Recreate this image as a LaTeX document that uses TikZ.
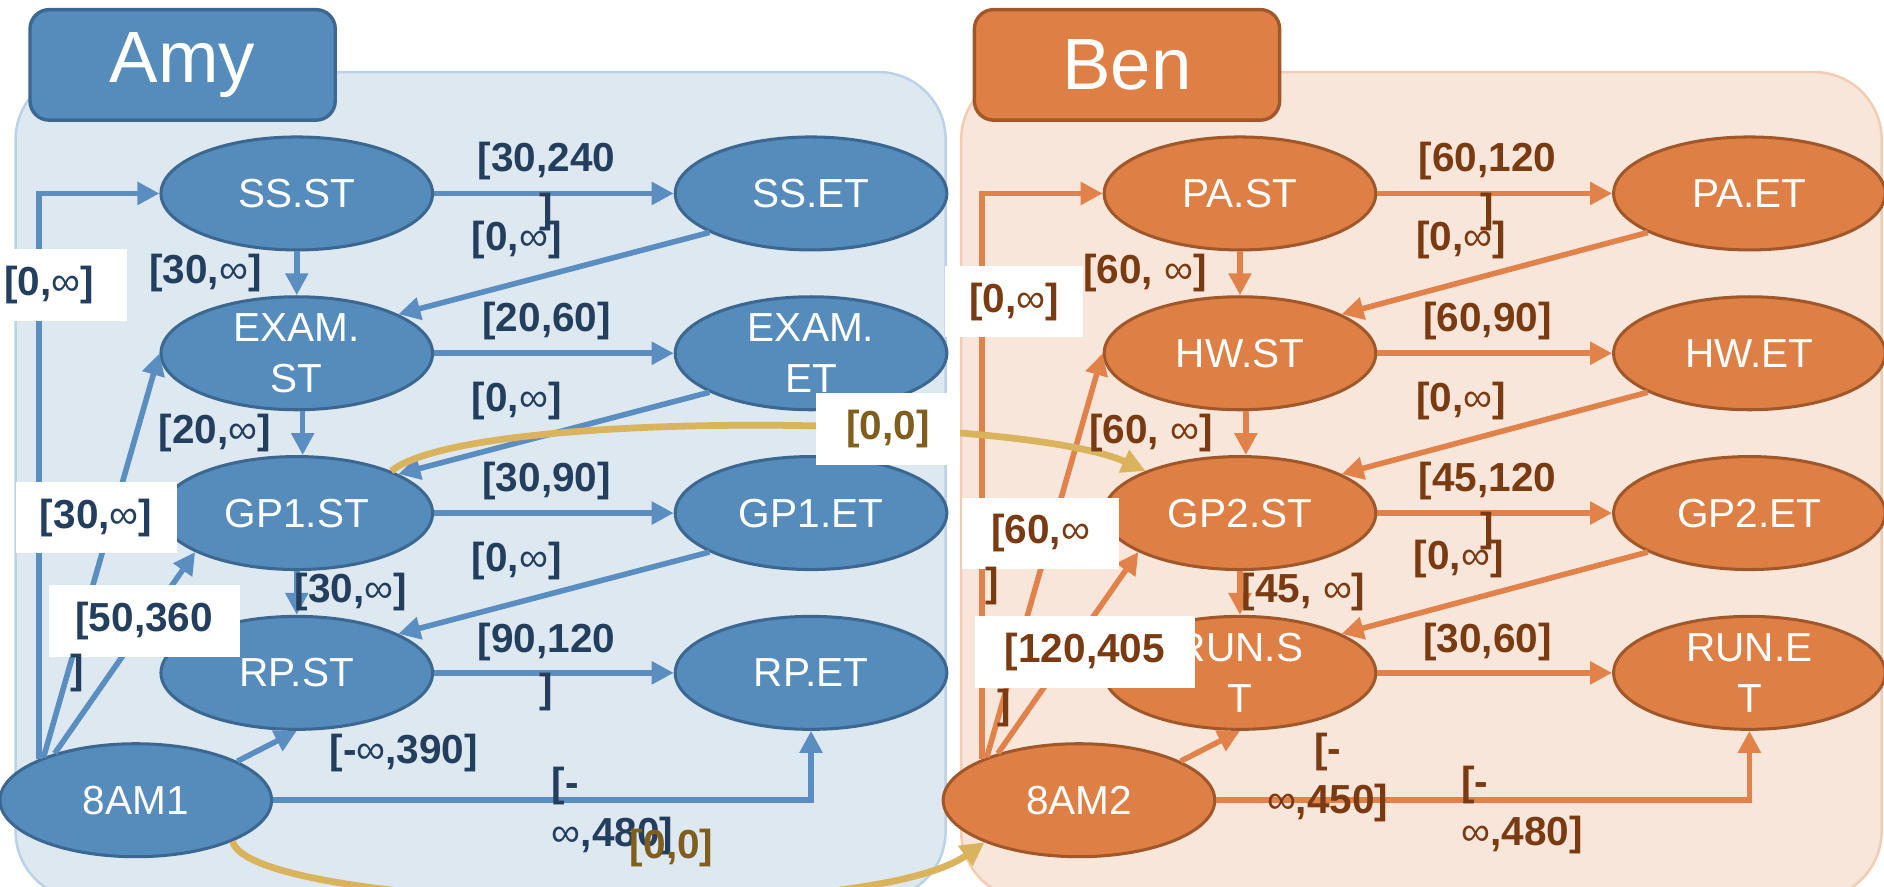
\documentclass[tikz,border=0pt]{standalone}
\usepackage{fontspec}
\setmainfont{Liberation Sans}
\usetikzlibrary{arrows.meta,shapes.geometric}

\definecolor{amyfill}{HTML}{558CBB}
\definecolor{amyline}{HTML}{3B6791}
\definecolor{amyarrow}{HTML}{5A8EC0}
\definecolor{amypanel}{HTML}{DEE8F1}
\definecolor{amypanelline}{HTML}{BCD2E6}
\definecolor{amytext}{HTML}{243F5E}
\definecolor{benfill}{HTML}{DE8046}
\definecolor{benline}{HTML}{A0582B}
\definecolor{benarrow}{HTML}{E0824A}
\definecolor{benpanel}{HTML}{F9E6DA}
\definecolor{benpanelline}{HTML}{F2CDB5}
\definecolor{bentext}{HTML}{7A3A12}
\definecolor{sync}{HTML}{DAB45C}
\definecolor{synctext}{HTML}{7F5E1E}

\newcommand{\infsym}{{\mdseries ∞}}

\begin{document}
\begin{tikzpicture}[x=0.025cm, y=-0.025cm,
  evnode/.style={ellipse, minimum width=5.65cm, minimum height=2.35cm,
    inner sep=0pt, inner ysep=-3pt, line width=1.8pt, text=white,
    align=center, font=\fontsize{24}{30}\selectfont},
  amystate/.style={evnode, fill=amyfill, draw=amyline},
  benstate/.style={evnode, fill=benfill, draw=benline},
  amyedge/.style={draw=amyarrow, line width=3.3pt, -{Triangle[length=13pt,width=13pt]}},
  benedge/.style={draw=benarrow, line width=3.3pt, -{Triangle[length=13pt,width=13pt]}},
  syncedge/.style={draw=sync, line width=4pt, -{Triangle[length=14pt,width=14pt]}},
  lab/.style={inner sep=0pt, font=\bfseries\fontsize{24}{30}\selectfont},
  amylab/.style={lab, text=amytext},
  benlab/.style={lab, text=bentext},
  synclab/.style={lab, text=synctext},
  whitebox/.style={fill=white},
  titlebox/.style={rounded corners=0.4cm, line width=2pt, text=white,
    font=\fontsize{43}{50}\selectfont, minimum width=6.35cm,
    minimum height=2.3cm, inner sep=0pt}
]
\useasboundingbox (0,0) rectangle (1568,738);
\clip (0,0) rectangle (1568,738);

% swimlane panels
\draw[fill=amypanel, draw=amypanelline, line width=1.5pt, rounded corners=1.4cm]
  (13,60) rectangle (787,748);
\draw[fill=benpanel, draw=benpanelline, line width=1.5pt, rounded corners=1.4cm]
  (800,60) rectangle (1566,748);
\node[titlebox, fill=amyfill, draw=amyline] (amytitle) at (152,54) {Amy};
\node[titlebox, fill=benfill, draw=benline] (bentitle) at (938,54) {Ben};

% Amy's time points
\node[amystate] (ssst)    at (247,161) {SS.ST};
\node[amystate] (sset)    at (675,161) {SS.ET};
\node[amystate] (examst)  at (247,294) {EXAM.\\ST};
\node[amystate] (examet)  at (675,294) {EXAM.\\ET};
\node[amystate] (gpost)   at (247,427) {GP1.ST};
\node[amystate] (gpoet)   at (675,427) {GP1.ET};
\node[amystate] (rpst)    at (247,560) {RP.ST};
\node[amystate] (rpet)    at (675,560) {RP.ET};
\node[amystate] (amstart) at (113,666) {8AM1};

% Ben's time points
\node[benstate] (past)    at (1032,161) {PA.ST};
\node[benstate] (paet)    at (1456,161) {PA.ET};
\node[benstate] (hwst)    at (1032,294) {HW.ST};
\node[benstate] (hwet)    at (1456,294) {HW.ET};
\node[benstate] (gptst)   at (1032,427) {GP2.ST};
\node[benstate] (gptet)   at (1456,427) {GP2.ET};
\node[benstate] (runst)   at (1032,560) {RUN.S\\T};
\node[benstate] (runet)   at (1456,560) {RUN.E\\T};
\node[benstate] (bmstart) at (898,666)  {8AM2};

% Amy's constraints
\draw[amyedge] (amstart.157) |- (ssst.west);
\draw[amyedge] (amstart.155) -- (examst.west);
\draw[amyedge] (amstart.150) -- (gpost.201);
\draw[amyedge] (amstart.21) -- (rpst.south);
\draw[amyedge] (amstart.east) -| (rpet.south);
\draw[amyedge] (ssst.east) -- (sset.west);
\draw[amyedge] (ssst.south) -- (examst.north);
\draw[amyedge] (sset.201) -- (examst.21);
\draw[amyedge] (examst.east) -- (examet.west);
\draw[amyedge] ([xshift=3.5pt]examst.south) -- ([xshift=3.5pt]gpost.north);
\draw[amyedge] (examet.201) -- (gpost.21);
\draw[amyedge] (gpost.east) -- (gpoet.west);
\draw[amyedge] (gpost.south) -- (rpst.north);
\draw[amyedge] (gpoet.201) -- (rpst.21);
\draw[amyedge] (rpst.east) -- (rpet.west);

% Ben's constraints
\draw[benedge] (bmstart.157) |- (past.west);
\draw[benedge] (bmstart.155) -- (hwst.west);
\draw[benedge] (bmstart.150) -- (gptst.201);
\draw[benedge] (bmstart.21) -- (runst.south);
\draw[benedge] (bmstart.east) -| (runet.south);
\draw[benedge] (past.east) -- (paet.west);
\draw[benedge] (past.south) -- (hwst.north);
\draw[benedge] (paet.201) -- (hwst.21);
\draw[benedge] (hwst.east) -- (hwet.west);
\draw[benedge] ([xshift=3.5pt]hwst.south) -- ([xshift=3.5pt]gptst.north);
\draw[benedge] (hwet.201) -- (gptst.21);
\draw[benedge] (gptst.east) -- (gptet.west);
\draw[benedge] (gptst.south) -- (runst.north);
\draw[benedge] (gptet.201) -- (runst.21);
\draw[benedge] (runst.east) -- (runet.west);

% synchronisation between the two lanes
\draw[syncedge] (gpost.24) .. controls (390,340) and (850,345) .. (gptst.156);
\draw[syncedge] (amstart.337) .. controls (208,758) and (720,772) .. (bmstart.204);

% Amy's labels
\node[amylab, whitebox, minimum width=3.25cm, minimum height=1.5cm] (la1) at (41,237) {[0,\infsym]};
\node[amylab, whitebox, minimum width=3.35cm, minimum height=1.48cm] (la2) at (80,431) {[30,\infsym]};
\node[amylab, whitebox, minimum width=3.98cm, minimum height=1.5cm] (la3) at (120,517) {[50,360};
\node[amylab, anchor=west] (la3b) at (58,560) {]};
\node[amylab] (la4) at (336,627) {[-\infsym,390]};
\node[amylab, align=left, anchor=north west] (la5) at (459,638) {[-\\\infsym,480]};
\node[amylab, align=center, anchor=north] (la6) at (455,118) {[30,240\\]};
\node[amylab] (la7) at (430,200) {[0,\infsym]};
\node[amylab] (la8) at (171,227) {[30,\infsym]};
\node[amylab] (la9) at (455,267) {[20,60]};
\node[amylab] (la10) at (430,334) {[0,\infsym]};
\node[amylab] (la11) at (179,360) {[20,\infsym]};
\node[amylab] (la12) at (455,400) {[30,90]};
\node[amylab] (la13) at (430,467) {[0,\infsym]};
\node[amylab] (la14) at (292,493) {[30,\infsym]};
\node[amylab, align=center, anchor=north] (la15) at (455,518) {[90,120\\]};

% Ben's labels
\node[benlab, whitebox, minimum width=2.88cm, minimum height=1.48cm] (lb1) at (844,251) {[0,\infsym]};
\node[benlab] (lb2) at (953,227) {[60, \infsym]};
\node[benlab, align=center, anchor=north] (lb3) at (1238,118) {[60,120\\]};
\node[benlab] (lb4) at (1216,200) {[0,\infsym]};
\node[benlab] (lb5) at (1238,267) {[60,90]};
\node[benlab] (lb6) at (1216,334) {[0,\infsym]};
\node[benlab] (lb7) at (958,360) {[60, \infsym]};
\node[benlab, align=center, anchor=north] (lb8) at (1238,384) {[45,120\\]};
\node[benlab] (lb9) at (1214,465) {[0,\infsym]};
\node[benlab] (lb10) at (1085,493) {[45, \infsym]};
\node[benlab] (lb11) at (1238,534) {[30,60]};
\node[benlab, whitebox, minimum width=3.25cm, minimum height=1.48cm] (lb12) at (866,444) {[60,\infsym};
\node[benlab, anchor=west] (lb12b) at (820,488) {]};
\node[benlab, whitebox, minimum width=4.58cm, minimum height=1.5cm] (lb13) at (903,543) {[120,405};
\node[benlab, anchor=west] (lb13b) at (830,589) {]};
\node[benlab, align=center, anchor=north] (lb14) at (1105,610) {[-\\\infsym,450]};
\node[benlab, align=left, anchor=north west] (lb15) at (1216,637) {[-\\\infsym,480]};

% synchronisation labels
\node[synclab, whitebox, minimum width=3cm, minimum height=1.5cm] (ls1) at (739,357) {[0,0]};
\node[synclab] (ls2) at (559,706) {[0,0]};
\end{tikzpicture}
\end{document}
